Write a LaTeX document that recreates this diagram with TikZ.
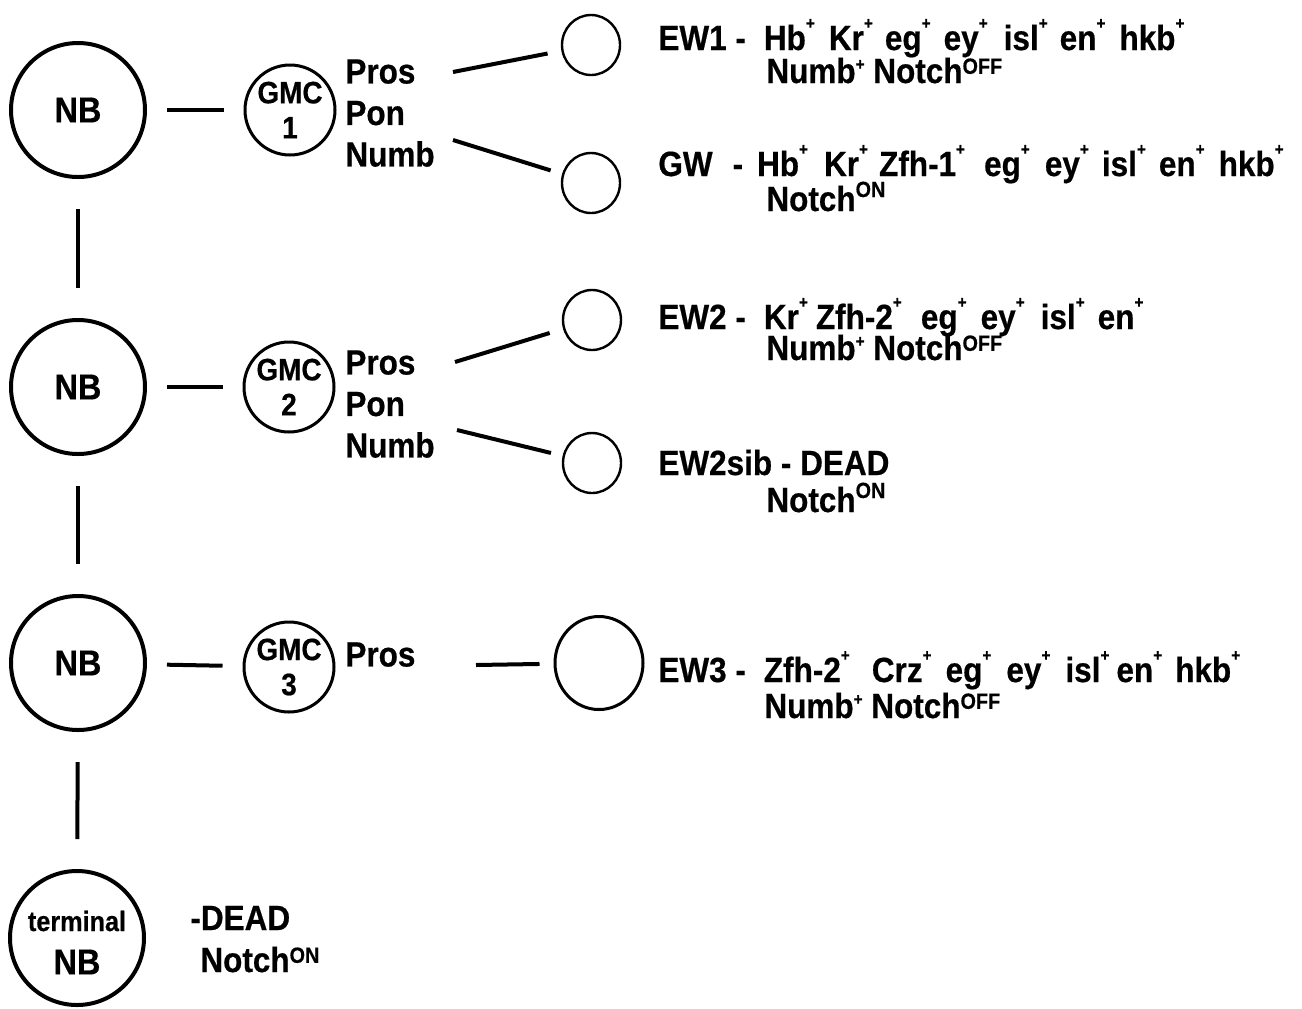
\documentclass[tikz,border=0pt]{standalone}
\usepackage{fontspec}
\setmainfont{Liberation Sans}[FakeStretch=0.9,BoldFeatures={FakeBold=0.5}]
\usetikzlibrary{shapes.geometric}
% raised small plus of no width, followed by a gap (in pt)
\newcommand{\g}[1]{\rlap{\raisebox{10.5pt}{\fontsize{8.5}{8.5}\selectfont +}}\hspace{#1pt}}
\newcommand{\gl}{\rlap{\raisebox{10.5pt}{\fontsize{8.5}{8.5}\selectfont +}}}
\newcommand{\np}{\raisebox{6.5pt}{\fontsize{8.5}{8.5}\selectfont +}}
\newcommand{\up}[1]{\raisebox{4.6pt}{\fontsize{11}{11}\selectfont #1}}
\newcommand{\uph}[1]{\raisebox{7pt}{\fontsize{11}{11}\selectfont #1}}
\begin{document}
\begin{tikzpicture}[x=0.5pt,y=-0.5pt,
  font=\bfseries\fontsize{17.5}{19}\selectfont,
  nb/.style={circle,draw,line width=2pt,minimum size=67pt,inner sep=0pt,font=\bfseries\fontsize{18}{19}\selectfont},
  gmc/.style={circle,draw,line width=1.5pt,minimum size=45pt,inner sep=0pt,align=center,
    font=\bfseries\fontsize{15.5}{17.5}\selectfont},
  dtr/.style={ellipse,draw,line width=1.2pt,minimum width=29pt,minimum height=30pt,inner sep=0pt},
  bigdtr/.style={ellipse,draw,line width=1.5pt,minimum width=44pt,minimum height=46.5pt,inner sep=0pt},
  link/.style={line width=2pt},
  lbl/.style={anchor=base west,inner sep=0pt},
  plist/.style={anchor=north west,inner sep=0pt,align=left,font=\bfseries\fontsize{17.5}{20.75}\selectfont}]
\useasboundingbox (0,0) rectangle (1302,1008);

% neuroblasts
\node[nb] (nb1) at (78,110) {NB};
\node[nb] (nb2) at (78,387) {NB};
\node[nb] (nb3) at (78,663) {NB};
\node[nb] (nb4) at (77,938) {};
\node[font=\bfseries\fontsize{14}{15}\selectfont,inner sep=0pt] (nb4t) at (77,921) {terminal};
\node[font=\bfseries\fontsize{18}{19}\selectfont,inner sep=0pt] (nb4n) at (77,962) {NB};

\draw[link,shorten <=15pt,shorten >=15pt] (nb1) -- (nb2);
\draw[link,shorten <=15pt,shorten >=15pt] (nb2) -- (nb3);
\draw[link,shorten <=15pt,shorten >=15pt] (nb3) -- (nb4);

% GMCs
\node[gmc] (g1) at (290,110) {GMC\\1};
\node[gmc] (g2) at (289,387) {GMC\\2};
\node[gmc] (g3) at (289,667) {GMC\\3};

\draw[link,shorten <=10pt,shorten >=10pt] (nb1) -- (g1);
\draw[link,shorten <=10pt,shorten >=10pt] (nb2) -- (g2);
\draw[link,shorten <=10pt,shorten >=10pt] (nb3) -- (g3);

% determinants
\node[plist] (p1) at (345,59) {Pros\\Pon\\Numb};
\node[plist] (p2) at (345,350) {Pros\\Pon\\Numb};
\node[plist] (p3) at (345,642) {Pros};

% daughters
\node[dtr] (ew1) at (591,45) {};
\node[dtr] (gw) at (591,183) {};
\node[dtr] (ew2) at (592,320) {};
\node[dtr] (ew2s) at (592,463) {};
\node[bigdtr] (ew3) at (599,663) {};

\coordinate (a1) at (453,72);
\coordinate (a2) at (453,140);
\coordinate (a3) at (455,362);
\coordinate (a4) at (457,430);
\coordinate (a5) at (476,665);
\draw[link,shorten >=7pt] (a1) -- (ew1);
\draw[link,shorten >=6pt] (a2) -- (gw);
\draw[link,shorten >=7pt] (a3) -- (ew2);
\draw[link,shorten >=6pt] (a4) -- (ew2s);
\draw[link,shorten >=7pt] (a5) -- (ew3);

% labels
\node[lbl] (t1) at (658,50) {EW1 -\hspace{9pt}Hb\g{11.5}Kr\g{10.5}eg\g{11}ey\g{12.5}isl\g{10.5}en\g{11.5}hkb\gl};
\node[lbl] (t1b) at (766,83) {Numb\np\ Notch\up{OFF}};
\node[lbl] (t2) at (658,176) {GW\hspace{10pt}-\hspace{7pt}Hb\g{12.5}Kr\g{10}Zfh-1\g{14}eg\g{12}ey\g{11}isl\g{11}en\g{11.5}hkb\gl};
\node[lbl] (t2b) at (766,211) {Notch\uph{ON}};
\node[lbl] (t3) at (658,329) {EW2 -\hspace{9pt}Kr\g{8.5}Zfh-2\g{14}eg\g{11.5}ey\g{12.5}isl\g{11}en\gl};
\node[lbl] (t3b) at (766,360) {Numb\np\ Notch\up{OFF}};
\node[lbl] (t4) at (658,475) {EW2sib - DEAD};
\node[lbl] (t4b) at (766,512) {Notch\uph{ON}};
\node[lbl] (t5) at (658,682) {EW3 -\hspace{9pt}Zfh-2\g{15.5}Crz\g{11.5}eg\g{12}ey\g{12}isl\g{8}en\g{11}hkb\gl};
\node[lbl] (t5b) at (764,718) {Numb\np\ Notch\up{OFF}};
\node[lbl] (t6) at (190,930) {-DEAD};
\node[lbl] (t6b) at (200,972) {Notch\up{ON}};
\end{tikzpicture}
\end{document}
